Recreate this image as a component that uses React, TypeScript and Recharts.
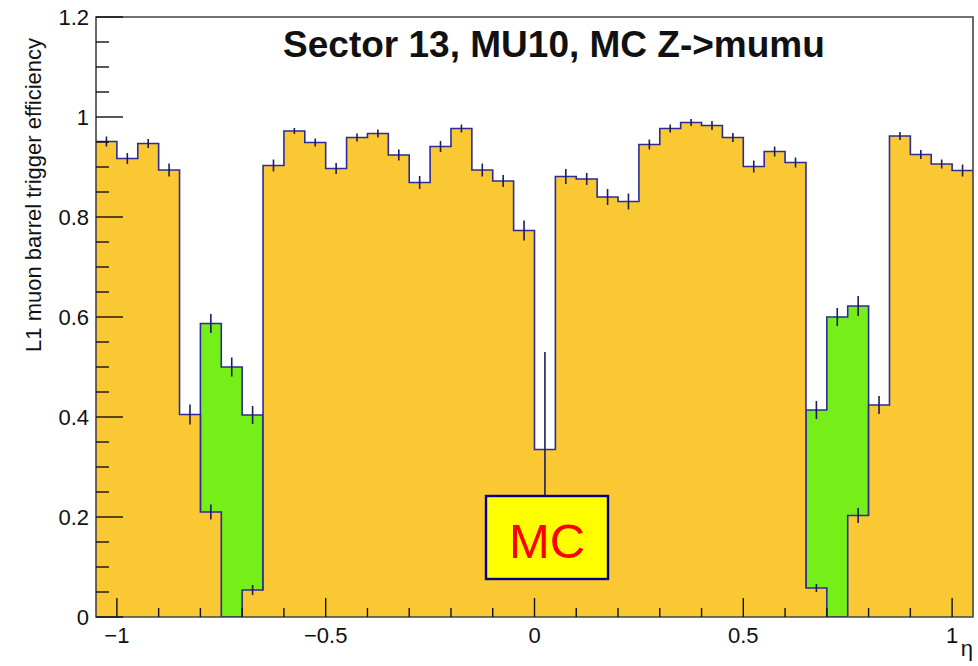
import React from "react";
import { ComposedChart, Area, Scatter, ErrorBar, XAxis, YAxis, ReferenceArea } from "recharts";

// Bin edges in eta (42 bins of width 0.05)
const binEdges = [
  -1.05, -1.0, -0.95, -0.9, -0.85, -0.8, -0.75, -0.7, -0.65, -0.6, -0.55, -0.5, -0.45, -0.4,
  -0.35, -0.3, -0.25, -0.2, -0.15, -0.1, -0.05, 0.0, 0.05, 0.1, 0.15, 0.2, 0.25, 0.3, 0.35,
  0.4, 0.45, 0.5, 0.55, 0.6, 0.65, 0.7, 0.75, 0.8, 0.85, 0.9, 0.95, 1.0, 1.05,
];

// Main (yellow) efficiency histogram
const yellowEff = [
  0.951, 0.917, 0.947, 0.894, 0.405, 0.21, 0.0, 0.054, 0.903, 0.972, 0.949, 0.897, 0.959, 0.967,
  0.924, 0.869, 0.941, 0.977, 0.894, 0.872, 0.773, 0.335, 0.881, 0.876, 0.84, 0.831, 0.945, 0.977,
  0.989, 0.983, 0.959, 0.901, 0.931, 0.909, 0.058, 0.0, 0.203, 0.424, 0.962, 0.925, 0.906, 0.893,
];
const yellowErr = [
  0.01, 0.011, 0.009, 0.013, 0.02, 0.015, 0.0, 0.01, 0.012, 0.006, 0.008, 0.011, 0.008, 0.008,
  0.011, 0.013, 0.011, 0.008, 0.013, 0.012, 0.02, 0.195, 0.015, 0.012, 0.016, 0.016, 0.01, 0.008,
  0.007, 0.009, 0.009, 0.012, 0.01, 0.01, 0.008, 0.0, 0.015, 0.018, 0.008, 0.009, 0.009, 0.012,
];

// Overlaid (green) histogram
const greenEff = [
  0, 0, 0, 0, 0, 0.587, 0.5, 0.404, 0, 0, 0, 0, 0, 0, 0, 0, 0, 0, 0, 0, 0, 0, 0, 0, 0, 0, 0, 0,
  0, 0, 0, 0, 0, 0, 0.414, 0.6, 0.622, 0, 0, 0, 0, 0,
];
const greenErr = [
  0, 0, 0, 0, 0, 0.019, 0.019, 0.018, 0, 0, 0, 0, 0, 0, 0, 0, 0, 0, 0, 0, 0, 0, 0, 0, 0, 0, 0, 0,
  0, 0, 0, 0, 0, 0, 0.018, 0.018, 0.02, 0, 0, 0, 0, 0,
];

// Axis ticks
const yTicksAll = [
  0, 0.05, 0.1, 0.15, 0.2, 0.25, 0.3, 0.35, 0.4, 0.45, 0.5, 0.55, 0.6, 0.65, 0.7, 0.75, 0.8, 0.85,
  0.9, 0.95, 1.0, 1.05, 1.1, 1.15, 1.2,
];
const yMajorTicks = [0, 0.2, 0.4, 0.6, 0.8, 1.0, 1.2];
const yTickLabels = ["0", "0.2", "0.4", "0.6", "0.8", "1", "1.2"];
const xTicksAll = [
  -1.0, -0.9, -0.8, -0.7, -0.6, -0.5, -0.4, -0.3, -0.2, -0.1, 0, 0.1, 0.2, 0.3, 0.4, 0.5, 0.6, 0.7,
  0.8, 0.9, 1.0,
];
const xMajorTicks = [-1.0, -0.5, 0, 0.5, 1.0];
const xTickLabels = ["\u22121", "\u22120.5", "0", "0.5", "1"];

const titleText = "Sector 13, MU10, MC Z->mumu";
const yTitle = "L1 muon barrel trigger efficiency";
const xTitle = "\u03b7";
const boxText = "MC";

const FONT = "'Liberation Sans', Arial, Helvetica, sans-serif";
const OUTLINE = "#2c2c98";
const ERR = "#1c1c5e";

const stepData = binEdges.map((x, i) => ({
  x,
  y: yellowEff[Math.min(i, yellowEff.length - 1)],
  g: greenEff[Math.min(i, greenEff.length - 1)],
}));

const yellowErrData = yellowEff
  .map((v, i) => ({ x: (binEdges[i] + binEdges[i + 1]) / 2, y: v, e: yellowErr[i] }))
  .filter((d) => d.e > 0);
const greenErrData = greenEff
  .map((v, i) => ({ x: (binEdges[i] + binEdges[i + 1]) / 2, y: v, e: greenErr[i] }))
  .filter((d) => d.y > 0);

const findIdx = (arr: number[], v: number) => arr.findIndex((m) => Math.abs(m - v) < 1e-6);

const YTick = (props: any) => {
  const { x, y, payload } = props;
  const idx = findIdx(yMajorTicks, payload.value);
  const major = idx >= 0;
  return (
    <g>
      <line x1={x} x2={x + (major ? 27 : 13)} y1={y} y2={y} stroke="#111" strokeWidth={1.4} />
      {major && (
        <text x={x - 7} y={y + 8} textAnchor="end" fontSize={22} fontFamily={FONT} fill="#111">
          {yTickLabels[idx]}
        </text>
      )}
    </g>
  );
};

const XTick = (props: any) => {
  const { x, y, payload } = props;
  const idx = findIdx(xMajorTicks, payload.value);
  const major = idx >= 0;
  return (
    <g>
      <line x1={x} x2={x} y1={y} y2={y - (major ? 19 : 9)} stroke="#111" strokeWidth={1.4} />
      {major && (
        <text x={x} y={y + 26} textAnchor="middle" fontSize={22} fontFamily={FONT} fill="#111">
          {xTickLabels[idx]}
        </text>
      )}
    </g>
  );
};

const NoShape = () => <g />;

export default function App() {
  return (
    <div style={{ position: "absolute", left: 0, top: 0, width: 978, height: 666, background: "#fff" }}>
      <ComposedChart
        width={978}
        height={666}
        data={stepData}
        margin={{ top: 17, right: 5, bottom: 0, left: 0 }}
      >
        <XAxis
          type="number"
          dataKey="x"
          domain={[-1.05, 1.05]}
          ticks={xTicksAll}
          interval={0}
          height={49}
          tickSize={0}
          tickMargin={0}
          tickLine={false}
          axisLine={false}
          tick={<XTick />}
          allowDataOverflow
        />
        <YAxis
          type="number"
          domain={[0, 1.2]}
          ticks={yTicksAll}
          interval={0}
          width={96}
          tickSize={0}
          tickMargin={0}
          tickLine={false}
          axisLine={false}
          tick={<YTick />}
          allowDataOverflow
        />
        <Area
          type="stepAfter"
          dataKey="g"
          fill="#76ee17"
          fillOpacity={1}
          stroke={OUTLINE}
          strokeWidth={1.6}
          dot={false}
          activeDot={false}
          isAnimationActive={false}
        />
        <Area
          type="stepAfter"
          dataKey="y"
          fill="#fac832"
          fillOpacity={1}
          stroke={OUTLINE}
          strokeWidth={1.6}
          dot={false}
          activeDot={false}
          isAnimationActive={false}
        />
        <Scatter data={yellowErrData} dataKey="y" shape={NoShape} isAnimationActive={false}>
          <ErrorBar dataKey="e" direction="y" width={0} stroke={ERR} strokeWidth={1.6} />
        </Scatter>
        <Scatter data={greenErrData} dataKey="y" shape={NoShape} isAnimationActive={false}>
          <ErrorBar dataKey="e" direction="y" width={0} stroke={ERR} strokeWidth={1.6} />
        </Scatter>
        <ReferenceArea
          x1={-1.05}
          x2={1.05}
          y1={0}
          y2={1.2}
          fill="none"
          fillOpacity={0}
          stroke="#444"
          strokeWidth={1.6}
          ifOverflow="visible"
        />
      </ComposedChart>
      <svg
        width={978}
        height={666}
        style={{ position: "absolute", left: 0, top: 0, pointerEvents: "none" }}
      >
        <text x={554} y={57} textAnchor="middle" fontSize={37} fontWeight="bold" fontFamily={FONT} fill="#111">
          {titleText}
        </text>
        <text
          transform="translate(41,38) rotate(-90)"
          textAnchor="end"
          fontSize={22}
          fontFamily={FONT}
          fill="#111"
        >
          {yTitle}
        </text>
        <text x={973} y={656} textAnchor="end" fontSize={22} fontFamily={FONT} fill="#111">
          {xTitle}
        </text>
        <rect x={486} y={496} width={122} height={83} fill="#ffff00" stroke="#00008e" strokeWidth={2.4} />
        <text x={547} y={558} textAnchor="middle" fontSize={49} fontFamily={FONT} fill="#ff0000">
          {boxText}
        </text>
      </svg>
    </div>
  );
}
